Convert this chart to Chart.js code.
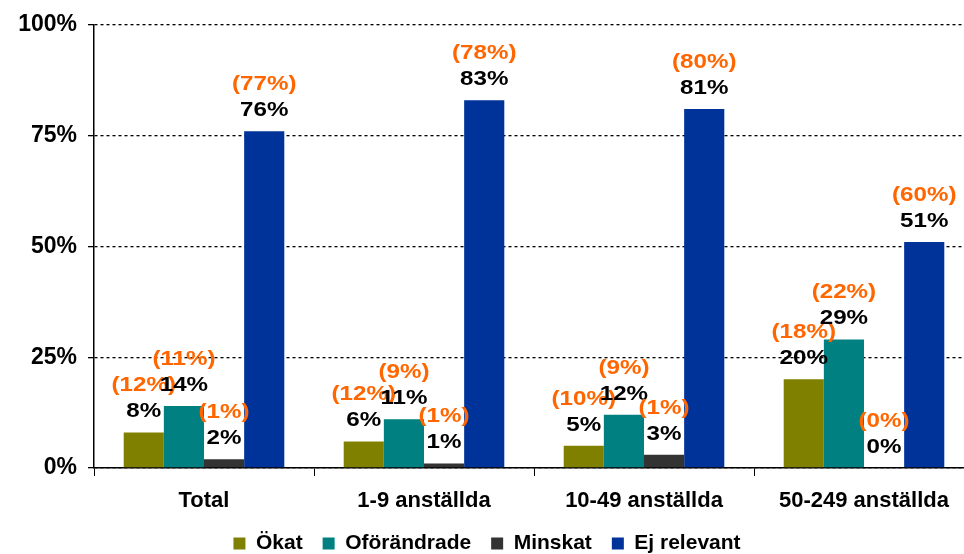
<!DOCTYPE html>
<html>
<head>
<meta charset="utf-8">
<script src="https://cdn.jsdelivr.net/npm/chart.js@4"></script>
<style>
  html, body { margin: 0; padding: 0; background: #fff; overflow: hidden; }
</style>
</head>
<body>
<canvas id="chart" width="980" height="554"></canvas>
<script>
const categories = ['Total', '1-9 anställda', '10-49 anställda', '50-249 anställda'];
const seriesNames = ['Ökat', 'Oförändrade', 'Minskat', 'Ej relevant'];
const okat = [8, 6, 5, 20];
const oforandrade = [14, 11, 12, 29];
const minskat = [2, 1, 3, 0];
const ejRelevant = [76, 83, 81, 51];
// previous survey values, shown in brackets above each bar
const okatPrev = [12, 12, 10, 18];
const oforandradePrev = [11, 9, 9, 22];
const minskatPrev = [1, 1, 1, 0];
const ejRelevantPrev = [77, 78, 80, 60];
const yTicks = [0, 25, 50, 75, 100];

const colors = ['#808000', '#008080', '#333333', '#003399'];
const values = [okat, oforandrade, minskat, ejRelevant];
const prevValues = [okatPrev, oforandradePrev, minskatPrev, ejRelevantPrev];

const FONT = '"Liberation Sans", Arial, sans-serif';

// draws "x%" and "(y%)" above every bar, slightly widened like the original
function wideText(ctx, text, x, y) {
  ctx.save();
  ctx.translate(x, y);
  ctx.scale(1.15, 1);
  ctx.fillText(text, 0, 0);
  ctx.restore();
}

const barLabels = {
  id: 'barLabels',
  afterDatasetsDraw(chart) {
    const ctx = chart.ctx;
    ctx.save();
    ctx.textAlign = 'center';
    ctx.textBaseline = 'middle';
    ctx.font = 'bold 21px ' + FONT;
    chart.data.datasets.forEach((ds, i) => {
      const meta = chart.getDatasetMeta(i);
      meta.data.forEach((bar, j) => {
        ctx.fillStyle = '#000000';
        wideText(ctx, ds.data[j] + '%', bar.x, bar.y - 21);
        ctx.fillStyle = '#FF6600';
        wideText(ctx, '(' + prevValues[i][j] + '%)', bar.x, bar.y - 47);
      });
    });
    ctx.restore();
  }
};

new Chart(document.getElementById('chart'), {
  type: 'bar',
  data: {
    labels: categories,
    datasets: seriesNames.map((name, i) => ({
      label: name,
      data: values[i],
      backgroundColor: colors[i],
      borderWidth: 0,
      categoryPercentage: 0.73,
      barPercentage: 1.0
    }))
  },
  options: {
    responsive: false,
    animation: false,
    layout: { padding: { top: 12, right: 6, left: 0, bottom: 0 } },
    plugins: {
      legend: {
        position: 'bottom',
        maxHeight: 41,
        labels: {
          boxWidth: 12,
          boxHeight: 12,
          padding: 20,
          color: '#000',
          font: { family: FONT, size: 21, weight: 'bold' }
        }
      },
      tooltip: { enabled: false }
    },
    scales: {
      x: {
        afterFit(scale) { scale.height = 45; },
        grid: {
          display: true,
          drawOnChartArea: false,
          drawTicks: true,
          tickLength: 8,
          tickColor: '#000',
          color: '#000'
        },
        border: { display: true, color: '#000', width: 1.5 },
        ticks: {
          color: '#000',
          padding: 12,
          font: { family: FONT, size: 22, weight: 'bold' }
        }
      },
      y: {
        min: 0,
        max: 100,
        afterFit(scale) { scale.width = 94; },
        afterBuildTicks(scale) { scale.ticks = yTicks.map(v => ({ value: v })); },
        grid: {
          color: '#000',
          lineWidth: 1.3,
          drawTicks: true,
          tickLength: 6,
          tickColor: '#000',
          tickBorderDash: []
        },
        border: { display: true, color: '#000', width: 1.5, dash: [3, 3] },
        ticks: {
          color: '#000',
          padding: 11,
          font: { family: FONT, size: 23, weight: 'bold' },
          callback: v => v + '%'
        }
      }
    }
  },
  plugins: [barLabels]
});
</script>
</body>
</html>
